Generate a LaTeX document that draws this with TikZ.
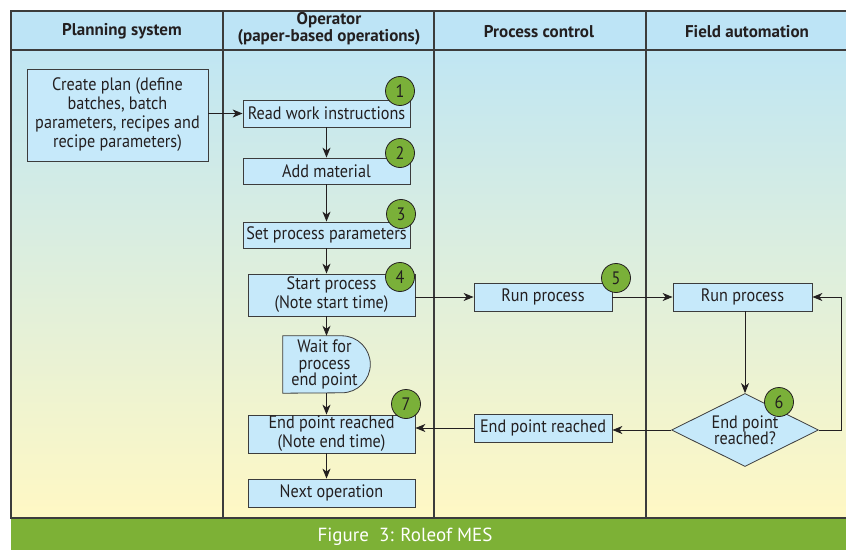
\documentclass[tikz,border=0pt]{standalone}
\usepackage{fontspec}
\setmainfont{PT Sans}
\newfontfamily\boitefont{PT Sans}[FakeStretch=0.9]
\usetikzlibrary{shapes.geometric,arrows.meta}
\definecolor{ink}{RGB}{35,31,32}
\definecolor{trait}{RGB}{60,60,60}
\definecolor{bleuboite}{RGB}{198,233,250}
\definecolor{bleutete}{RGB}{189,228,246}
\definecolor{bleufond}{RGB}{192,230,243}
\definecolor{jaunefond}{RGB}{255,248,196}
\definecolor{vertnum}{RGB}{122,176,57}
\definecolor{vertbas}{RGB}{125,177,54}
\tikzset{
    etape/.style={draw=trait, fill=bleuboite, line width=0.8pt, text=ink,
      font=\boitefont\fontsize{18}{19}\selectfont, align=center, inner sep=1pt},
    numero/.style={circle, draw=ink, fill=vertnum, line width=0.8pt,
      minimum size=29pt, inner sep=0pt, text=ink, font=\boitefont\fontsize{18}{18}\selectfont},
    titre/.style={font=\bfseries\fontsize{17}{17}\selectfont, align=center, text=ink},
    fleche/.style={draw=ink, line width=0.9pt, -{Stealth[length=10pt,width=8pt,inset=3pt]}},
  }
\begin{document}
\begin{tikzpicture}[x=1pt,y=1pt]
				  \useasboundingbox (0,0) rectangle (846,550);
				  %FOND et couloirs
				  \shade[top color=bleufond, bottom color=jaunefond] (11,32) rectangle (846,500);
				  \fill[bleutete] (11,500) rectangle (846,539);
				  \fill[vertbas] (11,0) rectangle (846,32);
				  \draw[draw=trait, line width=1.1pt] (846,539) -- (11,539) -- (11,32) -- (846,32);
				  \draw[draw=trait, line width=1.1pt] (11,500) -- (846,500);
				  \foreach \x in {223,434,646}
				    \draw[draw=trait, line width=1.1pt] (\x,539) -- (\x,32);

				  %TITRES
				  \node[titre] (tplan) at (122,518.5) {Planning system};
				  \node[titre] (top) at (329,521) {Operator\\(paper-based operations)};
				  \node[titre] (tpc) at (539,518.5) {Process control};
				  \node[titre] (tfa) at (747,518.5) {Field automation};

				  %PLANIFICATION
				  \node[etape, minimum width=181pt, minimum height=92pt] (plan) at (117.5,435)
				    {Create plan (define\\batches, batch\\parameters, recipes and\\recipe parameters)};

				  %OPERATEUR
				  \node[etape, minimum width=167pt, minimum height=27pt] (read) at (326.5,436.5) {Read work instructions};
				  \node[etape, minimum width=167pt, minimum height=26pt] (add) at (326.5,379) {Add material};
				  \node[etape, minimum width=167pt, minimum height=26pt] (set) at (326.5,315) {Set process parameters};
				  \node[etape, minimum width=167pt, minimum height=42pt] (start) at (331.5,255) {Start process\\(Note start time)};
				  \node[minimum width=87pt, minimum height=57pt, inner sep=0pt] (wait) at (326.5,185.5) {};
				  \draw[draw=trait, fill=bleuboite, line width=0.8pt] (wait.north west) -- ++(59,0)
				    arc[start angle=90, end angle=-90, radius=28.5pt] -- (wait.south west) -- cycle;
				  \node[text=ink, align=center, font=\boitefont\fontsize{18}{16.5}\selectfont] (waittxt)
				    at ([xshift=-2pt]wait.center) {Wait for\\process\\end point};
				  \node[etape, minimum width=167pt, minimum height=38pt] (opend) at (331.5,116) {End point reached\\(Note end time)};
				  \node[etape, minimum width=167pt, minimum height=28pt] (next) at (331.5,57) {Next operation};

				  %CONTROLE
				  \node[etape, minimum width=138pt, minimum height=28pt] (pcrun) at (543,253) {Run process};
				  \node[etape, minimum width=138pt, minimum height=28pt] (pcend) at (543,122) {End point reached};

				  %TERRAIN
				  \node[etape, minimum width=139pt, minimum height=28pt] (farun) at (742.5,253) {Run process};
				  \node[etape, diamond, aspect=2, inner sep=0pt, minimum width=147pt, minimum height=73pt,
				    font=\boitefont\fontsize{18}{16.5}\selectfont] (test) at (745,120) {End point\\reached?};

				  %FLECHES
				  \draw[fleche] (plan.east |- read.west) -- (read.west);
				  \draw[fleche] (read.south) -- (add.north);
				  \draw[fleche] (add.south) -- (set.north);
				  \draw[fleche] (set.south) -- (set.south |- start.north);
				  \draw[fleche] (set.south |- start.south) -- (wait.north);
				  \draw[fleche] (wait.south) -- (wait.south |- opend.north);
				  \draw[fleche] (wait.south |- opend.south) -- (wait.south |- next.north);
				  \draw[fleche] (start.east |- pcrun.west) -- (pcrun.west);
				  \draw[fleche] (pcrun.east) -- (farun.west);
				  \draw[fleche] (test.north |- farun.south) -- (test.north);
				  \draw[fleche] (test.east) -- ++(23,0) |- (farun.east);
				  \draw[fleche] (test.west) -- (test.west -| pcend.east);
				  \draw[fleche] (pcend.west) -- (pcend.west -| opend.east);

				  %NUMEROS
				  \node[numero] (n1) at (400,459) {1};
				  \node[numero] (n2) at (400,397) {2};
				  \node[numero] (n3) at (401,336) {3};
				  \node[numero] (n4) at (400,273) {4};
				  \node[numero] (n5) at (616,272) {5};
				  \node[numero] (n6) at (779,148) {6};
				  \node[numero] (n7) at (406,146) {7};

				  %LEGENDE
				  \node[text=white, font=\fontsize{19}{19}\selectfont] (legende) at (405,13) {Figure\ \ 3: Roleof MES};
				  \end{tikzpicture}
\end{document}
